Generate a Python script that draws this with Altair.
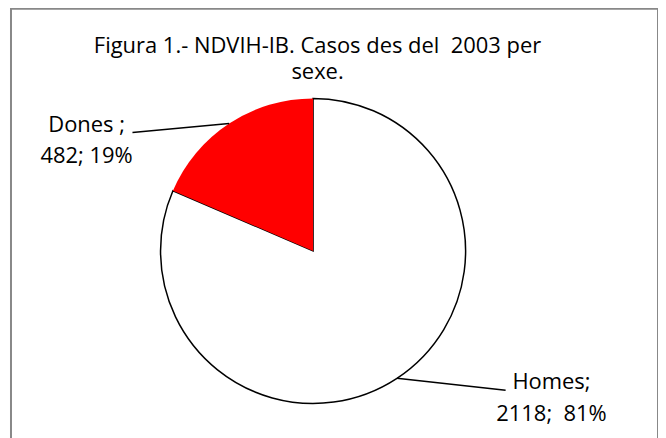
import altair as alt
import pandas as pd

# ---- data ----
sexe = ["Homes", "Dones"]
casos = [2118, 482]
etiqueta = ["Homes;", "Dones ;"]

title_lines = ["Figura 1.- NDVIH-IB. Casos des del\u00a0 2003 per", "sexe."]

# ---- style / layout constants ----
CX, CY, R = 303, 243, 153
FONT = "Open Sans"
FS = 22

df = pd.DataFrame({"sexe": sexe, "n": casos, "etiq": etiqueta})

base = alt.Chart(df).transform_window(
    idx="row_number()"
).transform_joinaggregate(
    total="sum(n)"
).transform_window(
    cum="sum(n)", sort=[alt.SortField("idx", order="ascending")], frame=[None, 0]
).transform_calculate(
    mid="(datum.cum - datum.n/2) / datum.total * 2 * PI",
    px=f"{CX} + {R} * sin(datum.mid)",
    py=f"{CY} - {R} * cos(datum.mid)",
    ex="datum.px + (datum.sexe == 'Homes' ? 109 : -97)",
    ey="datum.py + (datum.sexe == 'Homes' ? 12 : 9)",
    tx="datum.ex + (datum.sexe == 'Homes' ? 46 : -46)",
    ty="datum.ey - 1",
    label="datum.etiq + '\\n' + format(datum.n, 'd') + ';' + (datum.sexe == 'Homes' ? '\u00a0 ' : ' ') + format(datum.n / datum.total, '.0%')",
)

pie = base.mark_arc(radius=R, stroke="black").encode(
    theta=alt.Theta("n:Q", stack=True),
    order=alt.Order("idx:Q", sort="ascending"),
    color=alt.Color("sexe:N", scale=alt.Scale(domain=sexe, range=["#FFFFFF", "#FF0000"]), legend=None),
    strokeWidth=alt.condition(alt.datum.sexe == "Homes", alt.value(1.5), alt.value(0)),
    x=alt.value(CX),
    y=alt.value(CY),
)

leaders = base.mark_rule(color="black", strokeWidth=1.5).encode(
    x=alt.X("px:Q", scale=None),
    y=alt.Y("py:Q", scale=None),
    x2="ex:Q",
    y2="ey:Q",
)

labels = base.mark_text(
    align="center", baseline="alphabetic", font=FONT, fontSize=FS,
    lineBreak="\n", lineHeight=32, color="black"
).encode(
    x=alt.X("tx:Q", scale=None),
    y=alt.Y("ty:Q", scale=None),
    text="label:N",
)

chart = alt.layer(pie, leaders, labels).properties(
    width=649,
    height=440,
    autosize=alt.AutoSizeParams(type="none"),
    padding={"left": 3, "top": 0, "right": 0, "bottom": 0},
    title=alt.TitleParams(
        text=title_lines, font=FONT, fontSize=FS, fontWeight="normal", color="black",
        anchor="middle", orient="top", baseline="alphabetic", offset=0,
        dx=-17, dy=93, lineHeight=27,
    ),
).configure_view(stroke="#888888", strokeWidth=2)

chart.save("out.html", embed_options={"renderer": "svg", "actions": False})
